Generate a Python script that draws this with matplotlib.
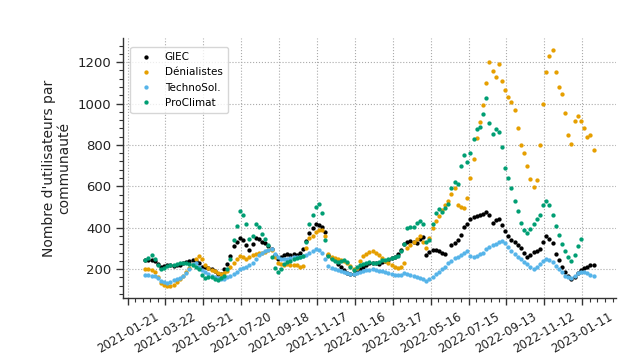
import numpy as np
import pandas as pd
import matplotlib
matplotlib.use('Agg')
import matplotlib.pyplot as plt
from matplotlib.ticker import AutoMinorLocator

nan = np.nan

# one value every 5 days
dates = pd.date_range('2021-02-18', periods=143, freq='5D')

giec = [242, 246, 244, 240, 225, 208, 214, 218, 220, 216, 219, 222, 230, 236, 238, 242, 238, 228, 212, 208,
        206, 200, 190, 176, 178, 200, 225, 262, 310, 332, 350, 342, 318, 292, 322, 350, 345, 332, 325, 312,
        298, 270, 250, 258, 266, 272, 268, 274, 270, 278, 295, 335, 372, 400, 418, 412, 405, 380, 268, 252,
        245, 225, 210, 196, 182, 178, 174, 185, 202, 212, 222, 228, 231, 228, 225, 232, 238, 242, 252, 260,
        272, 290, 322, 332, 335, 330, 325, 345, 355, 268, 282, 292, 294, 286, 280, 272, nan, 315, 328, 340,
        365, 405, 420, 440, 452, 456, 460, 466, 474, 462, 425, 435, 442, 412, 385, 358, 342, 330, 315, 300,
        280, 258, 270, 282, 288, 298, 330, 360, 345, 325, 275, 245, 210, 185, 165, 153, 160, 180, 195, 203,
        210, 218, 222]

denialistes = [202, 200, 196, 188, 160, 133, 122, 117, 120, 125, 138, 152, 166, 188, 205, 226, 248, 262, 250, 222,
               205, 196, 190, 182, 174, 180, 190, 210, 231, 248, 262, 258, 250, 258, 270, 274, 276, 280, 284, 292,
               290, 260, 231, 226, 222, 224, 220, 222, 218, 212, 215, 300, 348, 362, 378, 390, 388, 362, 275, 258,
               252, 248, 242, 238, 231, 215, 198, 205, 240, 262, 275, 282, 285, 278, 268, 255, 238, 228, 218, 210,
               207, 212, 230, 300, 318, 330, 345, 362, 330, 300, 350, 400, 432, 458, 484, 510, 530, 562, 590, 510,
               500, 495, 545, 640, 730, 835, 910, 995, 1100, 1200, 1155, 1130, 1190, 1110, 1065, 1030, 1005, 970, 880, 800,
               760, 700, 635, 595, 630, 800, 1000, 1150, 1230, 1260, 1150, 1080, 1045, 955, 850, 805, 915, 940, 915, 880,
               840, 850, 775]

technosol = [170, 172, 168, 166, 155, 142, 136, 133, 138, 148, 152, 158, 166, 182, 200, 225, 230, 210, 196, 185,
             176, 168, 160, 156, 153, 154, 160, 166, 175, 186, 198, 205, 212, 220, 230, 250, 268, 278, 286, 290,
             295, 272, 256, 250, 248, 250, 254, 256, 258, 260, 264, 268, 276, 285, 295, 292, 280, 250, 215, 205,
             200, 195, 190, 186, 182, 178, 174, 180, 186, 190, 194, 196, 199, 196, 192, 190, 186, 182, 176, 172,
             170, 172, 180, 178, 170, 166, 162, 158, 150, 142, 150, 162, 175, 188, 200, 212, 228, 240, 252, 260,
             266, 280, 288, 262, 260, 264, 272, 280, 295, 305, 314, 322, 330, 338, 325, 305, 285, 272, 260, 248,
             236, 223, 210, 200, 212, 223, 238, 248, 242, 232, 215, 200, 185, 168, 162, 158, 168, 180, 185, 186,
             182, 172, 165]

proclimat = [244, 255, 268, 250, 220, 198, 205, 215, 218, 222, 225, 228, 231, 228, 224, 220, 212, 200, 170, 158,
             164, 162, 152, 146, 155, 166, 200, 248, 340, 410, 480, 462, 420, 345, 360, 420, 405, 368, 345, 318,
             260, 205, 185, 200, 223, 232, 240, 248, 252, 258, 264, 330, 420, 460, 500, 512, 470, 340, 265, 248,
             240, 234, 240, 244, 232, 212, 195, 208, 222, 226, 230, 232, 230, 231, 236, 242, 246, 250, 252, 258,
             264, 285, 320, 398, 402, 404, 425, 432, 420, 330, 340, 420, 470, 488, 476, 495, 515, 590, 620, 610,
             700, 750, 715, 760, 830, 875, 885, 950, 1025, 905, 855, 875, 860, 790, 690, 640, 590, 530, 480, 425,
             390, 372, 395, 420, 440, 460, 510, 530, 510, 462, 410, 365, 320, 285, 258, 240, 270, 312, 345, nan,
             nan, nan, nan]

series = {
    'GIEC': (giec, '#000000'),
    'Dénialistes': (denialistes, '#E69F00'),
    'TechnoSol.': (technosol, '#56B4E9'),
    'ProClimat': (proclimat, '#009E73'),
}

tick_dates = pd.date_range('2021-01-21', periods=13, freq='60D')

plt.rcParams['font.family'] = ['DejaVu Sans']

fig = plt.figure(figsize=(6.43, 3.54), dpi=100)
ax = fig.add_axes([0.191, 0.158, 0.767, 0.735])

for name, (vals, color) in series.items():
    ax.plot(dates, vals, 'o', color=color, markersize=3.1, markeredgewidth=0, label=name)

ax.set_xticks(tick_dates)
ax.set_xticklabels([d.strftime('%Y-%m-%d') for d in tick_dates], rotation=30, ha='center', fontsize=8.5)
ax.xaxis.set_minor_locator(AutoMinorLocator(5))
ax.yaxis.set_minor_locator(AutoMinorLocator(5))
ax.set_yticks([200, 400, 600, 800, 1000, 1200])
ax.tick_params(axis='y', labelsize=9.5)
ax.tick_params(which='major', length=5, width=1, color='#333333', labelcolor='#222222')
ax.tick_params(which='minor', length=3, width=0.8, color='#333333')

ax.grid(True, which='major', linestyle=':', color='#aaaaaa', linewidth=0.8)
for side in ['top', 'right']:
    ax.spines[side].set_visible(False)
for side in ['left', 'bottom']:
    ax.spines[side].set_color('#333333')
    ax.spines[side].set_linewidth(1.0)

ax.set_ylabel("Nombre d'utilisateurs par\ncommunauté", fontsize=10, color='#222222')
ax.legend(loc='upper left', fontsize=7.5, markerscale=1.0, frameon=True,
          bbox_to_anchor=(0.005, 0.985), handletextpad=0.8, borderpad=0.5)

fig.savefig('out.png', dpi=100)
